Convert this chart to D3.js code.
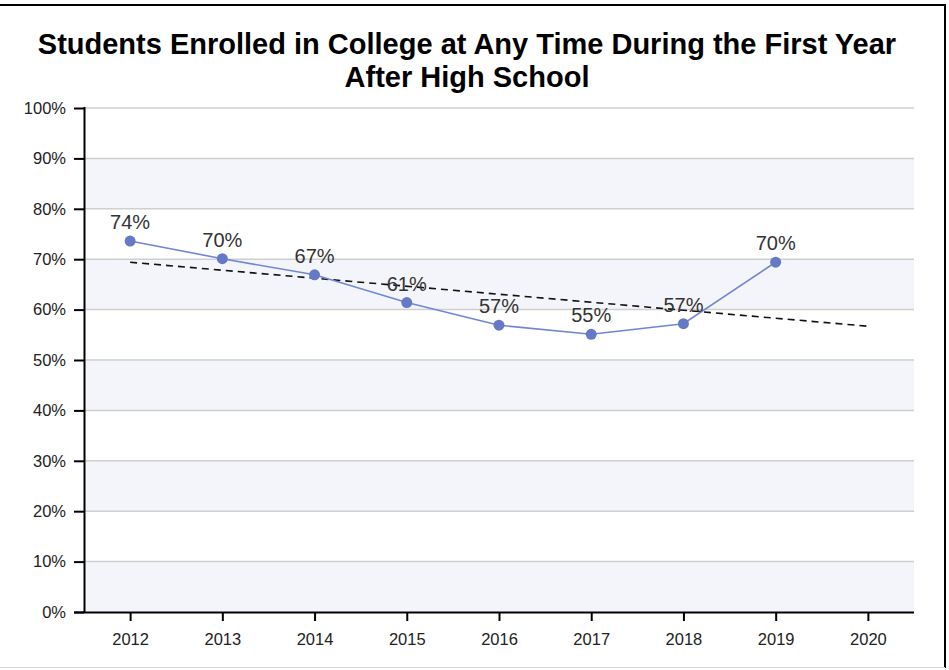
<!DOCTYPE html>
<html>
<head>
  <meta charset="utf-8">
  <title>Students Enrolled in College</title>
  <script src="https://d3js.org/d3.v7.min.js"></script>
  <style>
    body { margin: 0; background: white; }
    text { font-family: "Liberation Sans", Arial, sans-serif; }
  </style>
</head>
<body>
  <div id="chart"></div>
  <script>
    // data
    var years = [2012, 2013, 2014, 2015, 2016, 2017, 2018, 2019, 2020];
    var enrolled = [73.6, 70.1, 66.9, 61.4, 56.9, 55.1, 57.2, 69.4];
    var enrolledLabels = ["74%", "70%", "67%", "61%", "57%", "55%", "57%", "70%"];
    var trendYears = [2012, 2020];
    var trendValues = [69.4, 56.7];
    var yTicks = [0, 10, 20, 30, 40, 50, 60, 70, 80, 90, 100];

    var width = 949;
    var height = 670;
    var plotLeft = 84, plotRight = 914, plotTop = 108, plotBottom = 612;

    var svg = d3.select("#chart")
      .append("svg")
        .attr("width", width)
        .attr("height", height);

    // frame
    svg.append("line").attr("x1", 0).attr("x2", 946).attr("y1", 5).attr("y2", 5)
      .attr("stroke", "#000").attr("stroke-width", 2);
    svg.append("line").attr("x1", 945).attr("x2", 945).attr("y1", 4).attr("y2", 668)
      .attr("stroke", "#000").attr("stroke-width", 2);
    svg.append("line").attr("x1", 0).attr("x2", 945).attr("y1", 667.5).attr("y2", 667.5)
      .attr("stroke", "#d8d8d8").attr("stroke-width", 1);

    var x = d3.scalePoint()
      .domain(years)
      .range([plotLeft, plotRight])
      .padding(0.5);

    var y = d3.scaleLinear()
      .domain([0, 100])
      .range([plotBottom, plotTop]);

    // alternating bands
    var bands = yTicks.slice(0, -1).filter(function (d, i) { return i % 2 === 0; });
    svg.append("g").selectAll("rect")
      .data(bands)
      .enter().append("rect")
        .attr("x", plotLeft)
        .attr("width", plotRight - plotLeft)
        .attr("y", function (d) { return y(d + 10); })
        .attr("height", function (d) { return y(d) - y(d + 10); })
        .attr("fill", "#f4f5fb");

    // gridlines
    svg.append("g").selectAll("line")
      .data(yTicks.slice(1))
      .enter().append("line")
        .attr("x1", plotLeft)
        .attr("x2", plotRight)
        .attr("y1", function (d) { return y(d); })
        .attr("y2", function (d) { return y(d); })
        .attr("stroke", "#cfcfcf")
        .attr("stroke-width", 1.5);

    // axes
    var yAxis = svg.append("g")
      .attr("transform", "translate(" + plotLeft + ",0)")
      .call(d3.axisLeft(y).tickValues(yTicks).tickSize(10).tickPadding(8)
        .tickFormat(function (d) { return d + "%"; }));

    var xAxis = svg.append("g")
      .attr("transform", "translate(0," + plotBottom + ")")
      .call(d3.axisBottom(x).tickSize(9).tickPadding(12).tickSizeOuter(0));

    [yAxis, xAxis].forEach(function (a) {
      a.select(".domain").attr("stroke", "#000").attr("stroke-width", 2);
      a.selectAll(".tick line").attr("stroke", "#000").attr("stroke-width", 2);
      a.selectAll(".tick text")
        .attr("fill", "#222")
        .style("font-size", "16.5px")
        .style("font-family", "'Liberation Sans', Arial, sans-serif");
    });
    yAxis.select(".domain").attr("d", "M0.5," + (plotTop - 1) + "V" + (plotBottom + 1));
    xAxis.select(".domain").attr("d", "M" + (plotLeft - 10) + ",0.5H" + plotRight);

    // trend
    var trend = trendYears.map(function (d, i) { return { year: d, value: trendValues[i] }; });
    var line = d3.line()
      .x(function (d) { return x(d.year); })
      .y(function (d) { return y(d.value); });

    svg.append("path")
      .datum(trend)
      .attr("d", line)
      .attr("fill", "none")
      .attr("stroke", "#111")
      .attr("stroke-width", 1.6)
      .attr("stroke-dasharray", "7,5");

    // series
    var points = enrolled.map(function (v, i) { return { year: years[i], value: v, label: enrolledLabels[i] }; });

    svg.append("path")
      .datum(points)
      .attr("d", line)
      .attr("fill", "none")
      .attr("stroke", "#7286d3")
      .attr("stroke-width", 1.6);

    svg.append("g").selectAll("circle")
      .data(points)
      .enter().append("circle")
        .attr("cx", function (d) { return x(d.year); })
        .attr("cy", function (d) { return y(d.value); })
        .attr("r", 5.5)
        .attr("fill", "#6679c6");

    svg.append("g").selectAll("text")
      .data(points)
      .enter().append("text")
        .attr("x", function (d) { return x(d.year); })
        .attr("y", function (d) { return y(d.value) - 12; })
        .attr("text-anchor", "middle")
        .attr("fill", "#333")
        .style("font-size", "20px")
        .text(function (d) { return d.label; });

    // title
    var title = svg.append("text")
      .attr("text-anchor", "middle")
      .attr("fill", "#000")
      .style("font-size", "29px")
      .style("font-weight", "bold");
    title.append("tspan").attr("x", 467).attr("y", 54)
      .text("Students Enrolled in College at Any Time During the First Year");
    title.append("tspan").attr("x", 467).attr("y", 87)
      .text("After High School");
  </script>
</body>
</html>
